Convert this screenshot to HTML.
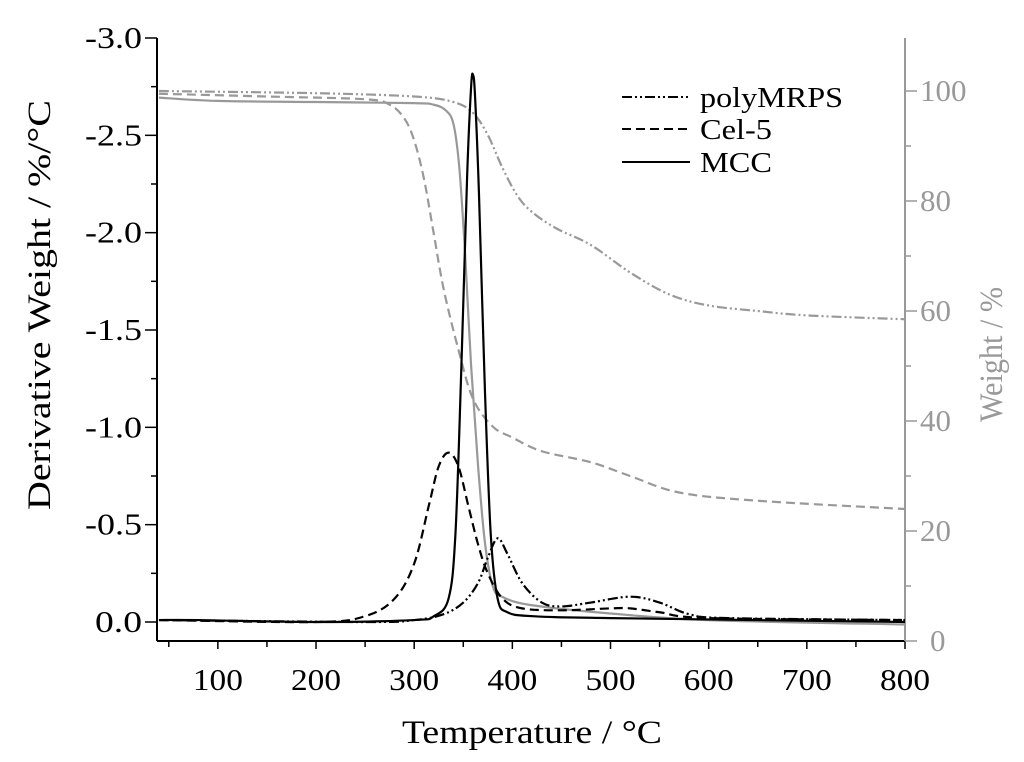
<!DOCTYPE html>
<html><head><meta charset="utf-8"><style>
html,body{margin:0;padding:0;background:#fff;}
svg{display:block;font-family:"Liberation Serif",serif;}
</style></head><body>
<svg id="chart" width="1024" height="762" viewBox="0 0 1024 762">
<g id="axes"></g><g id="series"></g>
<g font-size="28">
 <line x1="622" y1="97" x2="690" y2="97" stroke="#000" stroke-width="2" stroke-dasharray="10,3,2,3,2,3"/>
 <text x="700" y="107" textLength="143" lengthAdjust="spacingAndGlyphs">polyMRPS</text>
 <line x1="622" y1="129" x2="690" y2="129" stroke="#000" stroke-width="2" stroke-dasharray="9,5"/>
 <text x="700" y="139" textLength="72" lengthAdjust="spacingAndGlyphs">Cel-5</text>
 <line x1="622" y1="162" x2="690" y2="162" stroke="#000" stroke-width="2"/>
 <text x="700" y="172" textLength="72" lengthAdjust="spacingAndGlyphs">MCC</text>
</g>
<text x="402" y="743" font-size="33" textLength="260" lengthAdjust="spacingAndGlyphs">Temperature / °C</text>
<text transform="translate(50,510) rotate(-90)" font-size="33" textLength="410" lengthAdjust="spacingAndGlyphs">Derivative Weight / %/°C</text>
<text transform="translate(1002,422) rotate(-90)" font-size="33" fill="#999" textLength="135" lengthAdjust="spacingAndGlyphs">Weight / %</text>
</svg>
<script>
const xTicks=[100,200,300,400,500,600,700,800];
const yLeftTicks=[0,-0.5,-1.0,-1.5,-2.0,-2.5,-3.0];
const yRightTicks=[0,20,40,60,80,100];
const tempMCCdtg=[40,80,200,300,320,335,342,348,354,358,360,362,366,372,378,385,395,420,500,800];
const valMCCdtg=[-0.01,-0.01,0,-0.01,-0.03,-0.12,-0.45,-1.3,-2.3,-2.75,-2.81,-2.7,-2.2,-1.2,-0.45,-0.12,-0.05,-0.03,-0.02,0];
const tempCELdtg=[40,200,250,280,300,315,325,335,345,355,365,375,390,410,450,500,520,550,600,800];
const valCELdtg=[-0.01,0,-0.03,-0.12,-0.3,-0.6,-0.8,-0.87,-0.8,-0.6,-0.4,-0.25,-0.12,-0.07,-0.06,-0.07,-0.07,-0.05,-0.02,-0.01];
const tempPOLYdtg=[40,250,300,330,350,365,375,385,395,410,430,450,480,520,550,580,620,800];
const valPOLYdtg=[-0.01,0,-0.01,-0.04,-0.1,-0.2,-0.33,-0.43,-0.35,-0.2,-0.1,-0.08,-0.1,-0.13,-0.1,-0.04,-0.02,-0.01];
const tempMCCtg=[40,100,200,300,320,332,340,346,352,358,365,372,380,390,420,500,600,800];
const valMCCtg=[98.8,98.2,98,97.8,97.5,96.5,94,86,70,50,32,18,10,8,6.5,5,3.8,3];
const tempCELtg=[40,150,250,275,290,300,310,320,330,345,360,380,400,430,480,520,570,650,800];
const valCELtg=[99.5,99,98.5,97.5,95,91,84,74,64,53,44,39,37,34.5,32.5,30,27,25.5,24];
const tempPOLYtg=[40,200,300,340,360,375,390,405,420,445,480,520,560,600,650,700,800];
const valPOLYtg=[100,99.6,99,98,96,92,86,81,78,75,72,67,63,61,60,59.2,58.5];
const NS='http://www.w3.org/2000/svg';
const X=t=>157+(t-38)*(905-157)/(800-38);
const YL=v=>622+v*194.67;
const YR=p=>641-p*5.5;
function el(tag,a,parent){const e=document.createElementNS(NS,tag);for(const k in a)e.setAttribute(k,a[k]);parent.appendChild(e);return e;}
const ax=document.getElementById('axes'), sr=document.getElementById('series');
let e=el('line',{x1:157,y1:38,x2:157,y2:641,stroke:'#000','stroke-width':2},ax);


e=el('line',{x1:157,y1:641,x2:905,y2:641,stroke:'#000','stroke-width':2},ax);


e=el('line',{x1:905,y1:38,x2:905,y2:641,stroke:'#999','stroke-width':2},ax);


for(let t=50;t<=800;t+=50){const x=X(t);el('line',{x1:x,y1:641,x2:x,y2:t%100?647:649,stroke:'#000','stroke-width':1.5},ax);}
xTicks.forEach(t=>{const tx=el('text',{x:X(t),y:690,'font-size':31,'text-anchor':'middle',textLength:50,lengthAdjust:'spacingAndGlyphs'},ax);tx.textContent=t;

});
for(let v=0;v>=-3;v-=0.25){const y=YL(v);el('line',{x1:157,y1:y,x2:Math.abs(v*2)%1?151:145,y2:y,stroke:'#000','stroke-width':1.5},ax);}
yLeftTicks.forEach(v=>{const tx=el('text',{x:142,y:YL(v)+10,'font-size':31,'text-anchor':'end',textLength:v===0?47:57,lengthAdjust:'spacingAndGlyphs'},ax);tx.textContent=v.toFixed(1);

});
for(let p=0;p<=100;p+=10){const y=YR(p);el('line',{x1:905,y1:y,x2:p%20?911:917,y2:y,stroke:'#999','stroke-width':1.5},ax);}
yRightTicks.forEach(p=>{const tx=el('text',{x:p===0?930:920,y:YR(p)+10,'font-size':31,fill:'#999'},ax);tx.textContent=p;

});
function path(ts,vs,fy){const P=ts.map((t,i)=>[X(t),fy(vs[i])]);let d='M'+P[0].join(',');
for(let i=0;i<P.length-1;i++){const p0=P[Math.max(0,i-1)],p1=P[i],p2=P[i+1],p3=P[Math.min(P.length-1,i+2)];
const c1=[p1[0]+(p2[0]-p0[0])/6,p1[1]+(p2[1]-p0[1])/6],c2=[p2[0]-(p3[0]-p1[0])/6,p2[1]-(p3[1]-p1[1])/6];
d+=' C'+c1.join(',')+' '+c2.join(',')+' '+p2.join(',');}return d;}
const S=[
 [tempPOLYtg,valPOLYtg,YR,'#999','10,3,2,3,2,3','tg-polymrps'],
 [tempCELtg,valCELtg,YR,'#999','9,5','tg-cel5'],
 [tempMCCtg,valMCCtg,YR,'#999','','tg-mcc'],
 [tempPOLYdtg,valPOLYdtg,YL,'#000','10,3,2,3,2,3','dtg-polymrps'],
 [tempCELdtg,valCELdtg,YL,'#000','9,5','dtg-cel5'],
 [tempMCCdtg,valMCCdtg,YL,'#000','','dtg-mcc']];
S.forEach(s=>{const p=el('path',{d:path(s[0],s[1],s[2]),fill:'none',stroke:s[3],'stroke-width':2.2},sr);
if(s[4])p.setAttribute('stroke-dasharray',s[4]);

});
</script>
</body></html>
